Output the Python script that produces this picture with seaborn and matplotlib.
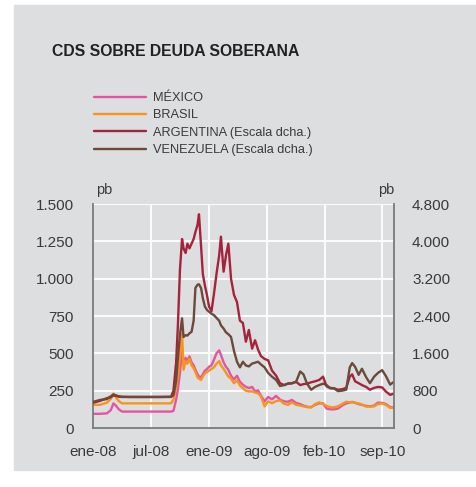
import pandas as pd
import numpy as np
import seaborn as sns
import matplotlib.pyplot as plt
from matplotlib.ticker import FuncFormatter
from matplotlib.patches import Rectangle

sns.set_style("white")
plt.rcParams['font.family'] = ['Liberation Sans', 'DejaVu Sans']

# datos (pb)
fechas = ['2008-01-01', '2008-01-24', '2008-02-17', '2008-03-01', '2008-03-10', '2008-03-18',
          '2008-03-28', '2008-04-08', '2008-05-05', '2008-06-24', '2008-08-14', '2008-09-20',
          '2008-09-28', '2008-10-07', '2008-10-13', '2008-10-20', '2008-10-27', '2008-11-01',
          '2008-11-08', '2008-11-14', '2008-11-21', '2008-11-28', '2008-12-05', '2008-12-11',
          '2008-12-18', '2008-12-23', '2008-12-30', '2009-01-05', '2009-01-12', '2009-01-19',
          '2009-01-26', '2009-02-03', '2009-02-11', '2009-02-20', '2009-03-01', '2009-03-07',
          '2009-03-16', '2009-03-24', '2009-04-01', '2009-04-10', '2009-04-20', '2009-04-30',
          '2009-05-10', '2009-05-20', '2009-05-30', '2009-06-09', '2009-06-20', '2009-06-30',
          '2009-07-10', '2009-07-20', '2009-08-01', '2009-08-13', '2009-08-26', '2009-09-09',
          '2009-09-22', '2009-10-06', '2009-10-19', '2009-11-01', '2009-11-15', '2009-11-29',
          '2009-12-10', '2009-12-22', '2010-01-05', '2010-01-18', '2010-02-01', '2010-02-14',
          '2010-02-26', '2010-03-10', '2010-03-23', '2010-04-05', '2010-04-19', '2010-05-03',
          '2010-05-15', '2010-05-23', '2010-06-02', '2010-06-14', '2010-06-25', '2010-07-09',
          '2010-07-22', '2010-08-05', '2010-08-18', '2010-09-01', '2010-09-14', '2010-09-28',
          '2010-10-11']

mexico = [95, 95, 98, 120, 165, 150, 125, 110, 110, 110, 110, 110,
          115, 190, 260, 370, 540, 420, 470, 450, 480, 440, 420, 390,
          360, 345, 340, 360, 385, 395, 410, 420, 455, 500, 520, 490,
          440, 410, 390, 350, 325, 350, 310, 290, 275, 268, 275, 245,
          252, 215, 178, 208, 192, 215, 190, 178, 176, 188, 168, 160,
          150, 142, 140, 155, 165, 165, 130, 125, 125, 130, 150, 165,
          170, 175, 168, 160, 155, 148, 145, 150, 170, 168, 160, 140,
          138]

brasil = [155, 155, 170, 195, 230, 205, 180, 165, 165, 165, 165, 165,
          190, 270, 340, 480, 630, 390, 450, 430, 465, 420, 400, 375,
          340, 330, 322, 345, 366, 375, 385, 395, 405, 430, 448, 420,
          395, 370, 345, 330, 300, 320, 285, 266, 250, 245, 245, 238,
          232, 212, 145, 178, 166, 180, 185, 162, 155, 172, 156, 150,
          145, 140, 138, 160, 172, 160, 148, 140, 138, 145, 160, 176,
          172, 172, 170, 165, 158, 143, 143, 145, 160, 165, 154, 135,
          135]

argentina = [540, 580, 640, 660, 700, 690, 670, 665, 665, 665, 665, 670,
             800, 1400, 2200, 3400, 4050, 3850, 3750, 3950, 3850, 3950, 4050, 4200,
             4350, 4580, 3900, 3300, 3050, 2850, 2600, 2500, 2850, 3300, 3700, 4100,
             3350, 3700, 3950, 3200, 2850, 2700, 2300, 2250, 1850, 2100, 1700, 1880,
             1680, 1540, 1480, 1450, 1230, 1120, 960, 920, 950, 960, 990, 920,
             940, 950, 980, 1000, 1030, 1100, 890, 860, 850, 820, 830, 860,
             1100, 1150, 1000, 960, 920, 880, 820, 860, 880, 870, 780, 710,
             740]

venezuela = [560, 600, 620, 680, 720, 700, 680, 670, 665, 665, 665, 665,
             700, 1000, 1500, 2000, 2350, 1950, 1990, 1980, 2030, 2060, 2300, 3000,
             3070, 3080, 3000, 2780, 2600, 2530, 2490, 2450, 2420, 2360, 2300, 2200,
             2130, 2050, 2010, 1950, 1650, 1420, 1300, 1420, 1340, 1320, 1380, 1400,
             1420, 1360, 1300, 1180, 1100, 1030, 900, 920, 955, 957, 990, 1210,
             1150, 950, 820, 880, 920, 950, 920, 850, 850, 790, 800, 820,
             1300, 1390, 1310, 1140, 1270, 1090, 960, 1100, 1180, 1240, 1110, 930,
             990]

ticks_x = ['2008-01-01', '2008-07-14', '2009-01-25', '2009-08-08', '2010-02-19', '2010-09-02']
etiquetas_x = ['ene-08', 'jul-08', 'ene-09', 'ago-09', 'feb-10', 'sep-10']
ticks_izq = [0, 250, 500, 750, 1000, 1250, 1500]
ticks_dcha = [0, 800, 1600, 2400, 3200, 4000, 4800]

df = pd.DataFrame({'fecha': pd.to_datetime(fechas), 'MÉXICO': mexico, 'BRASIL': brasil,
                   'ARGENTINA': argentina, 'VENEZUELA': venezuela})

gris_fondo = '#dddee0'
texto = '#3a3a3a'

fig = plt.figure(figsize=(4.77, 4.87), dpi=100)
fig.patches.append(Rectangle((14 / 477, 1 - 470 / 487), 1, 465 / 487,
                             transform=fig.transFigure, color=gris_fondo, zorder=-1))

ax = fig.add_axes([93 / 477, 1 - 428 / 487, 301 / 477, 224 / 487])
ax.set_facecolor('none')
ax2 = ax.twinx()
ax2.set_facecolor('none')

sns.lineplot(data=df, x='fecha', y='MÉXICO', ax=ax, color='#e3559f', lw=1.7,
             label='MÉXICO', legend=False)
sns.lineplot(data=df, x='fecha', y='BRASIL', ax=ax, color='#f7941d', lw=1.7,
             label='BRASIL', legend=False)
sns.lineplot(data=df, x='fecha', y='ARGENTINA', ax=ax2, color='#a3243b', lw=1.7,
             label='ARGENTINA (Escala dcha.)', legend=False)
sns.lineplot(data=df, x='fecha', y='VENEZUELA', ax=ax2, color='#6b4a39', lw=1.7,
             label='VENEZUELA (Escala dcha.)', legend=False)

ax.set_xlim(pd.Timestamp('2008-01-01'), pd.Timestamp('2010-10-11'))
ax.set_ylim(0, 1500)
ax2.set_ylim(0, 4800)
ax.set_xticks(pd.to_datetime(ticks_x))
ax.set_xticklabels(etiquetas_x)
ax.set_yticks(ticks_izq)
ax2.set_yticks(ticks_dcha)
miles = FuncFormatter(lambda v, p: f"{int(v):,}".replace(',', '.'))
ax.yaxis.set_major_formatter(miles)
ax2.yaxis.set_major_formatter(miles)
for a in (ax, ax2):
    a.set_xlabel('')
    a.set_ylabel('')

ax.grid(True, color='white', lw=1.3)
ax.set_axisbelow(True)
ax2.grid(False)

ax.tick_params(axis='y', length=0, labelsize=11, labelcolor=texto, pad=14)
ax.tick_params(axis='x', length=0, labelsize=11, labelcolor=texto, pad=12)
ax2.tick_params(axis='y', length=0, labelsize=11, labelcolor=texto, pad=13)

for s in ['top', 'right']:
    ax.spines[s].set_visible(False)
for s in ['left', 'bottom']:
    ax.spines[s].set_color('#7a7a7a')
    ax.spines[s].set_linewidth(1.3)
for s in ['top', 'left', 'bottom']:
    ax2.spines[s].set_visible(False)
ax2.spines['right'].set_color('#7a7a7a')
ax2.spines['right'].set_linewidth(1.3)

fig.text(104 / 477, 1 - 190 / 487, 'pb', ha='center', va='center', fontsize=10.5, color=texto)
fig.text(386 / 477, 1 - 190 / 487, 'pb', ha='center', va='center', fontsize=10.5, color=texto)

fig.text(52 / 477, 1 - 52 / 487, 'CDS SOBRE DEUDA SOBERANA', ha='left', va='center',
         fontsize=11.3, fontweight='bold', color='#222222')

h1, l1 = ax.get_legend_handles_labels()
h2, l2 = ax2.get_legend_handles_labels()
fig.legend(h1 + h2, l1 + l2, loc='upper left', bbox_to_anchor=(94 / 477, 1 - 92 / 487),
           frameon=False, fontsize=9.2, handlelength=4.1, handletextpad=0.5,
           labelspacing=0.42, borderpad=0, borderaxespad=0, labelcolor=texto)

fig.savefig('out.png', dpi=100)
